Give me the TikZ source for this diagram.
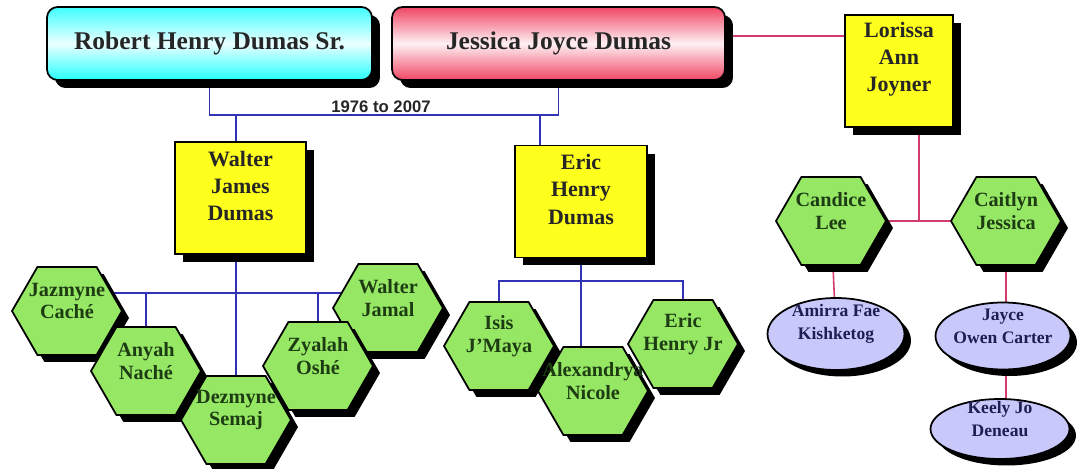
\documentclass[tikz,border=0pt]{standalone}
\usepackage{fontspec}
\setmainfont{Liberation Serif}
\newfontfamily\datefont{Liberation Sans}
\usetikzlibrary{shapes.symbols,shapes.geometric,shadows,backgrounds}
\definecolor{hexgreen}{RGB}{150,232,100}
\definecolor{boxyellow}{RGB}{255,255,30}
\definecolor{egglilac}{RGB}{200,200,250}
\definecolor{lineblue}{RGB}{50,50,180}
\definecolor{linepink}{RGB}{210,60,110}
\definecolor{roseshade}{RGB}{240,70,100}
\definecolor{hexink}{RGB}{30,60,20}
\definecolor{eggink}{RGB}{30,30,80}

\begin{document}
\begin{tikzpicture}[x=0.02cm, y=-0.02cm,
  blackshadow/.style={drop shadow={shadow xshift=1.6mm, shadow yshift=-1.6mm, fill=black, opacity=1}},
  parentbox/.style={rounded corners=6pt, draw=black, line width=1pt, minimum height=1.46cm,
    font=\fontsize{14.5}{17}\selectfont\bfseries, text=black!85, blackshadow},
  kidbox/.style={draw=black, line width=1pt, fill=boxyellow, minimum height=2.24cm, blackshadow},
  hex/.style={signal, signal to=east and west, signal pointer angle=120, draw=black, line width=1pt,
    fill=hexgreen, minimum width=2.2cm, minimum height=1.76cm, inner sep=0pt,
    drop shadow={shadow xshift=1.4mm, shadow yshift=-1.4mm, fill=black, opacity=1}},
  egg/.style={ellipse, draw=black, line width=1pt, fill=egglilac, inner sep=0pt,
    drop shadow={shadow xshift=1.3mm, shadow yshift=-1.3mm, fill=black, opacity=1}},
  boxtext/.style={align=center, yshift=0.24cm, text=black!85, font=\fontsize{12.5}{15.5}\selectfont\bfseries},
  hextext/.style={align=center, yshift=0.2cm, text=hexink, font=\fontsize{11.5}{12.8}\selectfont\bfseries},
  eggtext/.style={align=center, yshift=0.2cm, text=eggink, font=\fontsize{10}{13}\selectfont\bfseries},
  bline/.style={draw=lineblue, line width=0.9pt},
  pline/.style={draw=linepink, line width=0.9pt}
]
\useasboundingbox (0,0) rectangle (1079,469);

% parents
\node[parentbox, minimum width=6.5cm, top color=cyan!75, bottom color=cyan!85, middle color=cyan!8]
  (robert) at (209.5,43.5) {Robert Henry Dumas Sr.};
\node[parentbox, minimum width=6.66cm, top color=roseshade, bottom color=roseshade, middle color=roseshade!8]
  (jessica) at (558.5,43.5) {Jessica Joyce Dumas};
\node[kidbox, minimum width=2.16cm, label={[boxtext]center:Lorissa\\Ann\\Joyner}] (lorissa) at (899,71) {};

\coordinate (marry) at (381,115);
\node[above, inner sep=1pt, font=\datefont\fontsize{9.5}{10}\selectfont\bfseries, text=black!85] (date) at (marry) {1976 to 2007};

% sons
\node[kidbox, minimum width=2.62cm, label={[boxtext]center:Walter\\James\\Dumas}] (walter) at (240.5,198) {};
\node[kidbox, minimum width=2.64cm, label={[boxtext]center:Eric\\Henry\\Dumas}] (eric) at (581,201.5) {};

% grandchildren
\node[hex, label={[hextext]center:Jazmyne\\Caché}] (jazmyne) at (67,311) {};
\node[hex, label={[hextext]center:Anyah\\Naché}] (anyah) at (146,371) {};
\node[hex, label={[hextext]center:Walter\\Jamal}] (walterjamal) at (388,308) {};
\node[hex, label={[hextext]center:Zyalah\\Oshé}] (zyalah) at (318,366) {};
\node[hex, label={[hextext]center:Dezmyne\\Semaj}] (dezmyne) at (236,420) {};

\node[hex, label={[hextext]center:Isis\\J'Maya}] (isis) at (499,346) {};
\node[hex, label={[hextext]center:Alexandrya\\Nicole}] (alexandrya) at (593,391) {};
\node[hex, label={[hextext]center:Eric\\Henry Jr}] (ericjr) at (683,344) {};

\node[hex, label={[hextext]center:Candice\\Lee}] (candice) at (831,221) {};
\node[hex, label={[hextext]center:Caitlyn\\Jessica}] (caitlyn) at (1006,221) {};

\node[egg, minimum width=2.74cm, minimum height=1.44cm, label={[eggtext]center:Amirra Fae\\Kishketog}] (amirra) at (836,334) {};
\node[egg, minimum width=2.7cm, minimum height=1.34cm, label={[eggtext]center:Jayce\\Owen Carter}] (jayce) at (1003,336) {};
\node[egg, minimum width=2.78cm, minimum height=1.2cm, label={[eggtext]center:Keely Jo\\Deneau}] (keely) at (1000,429) {};

\coordinate (wbar) at (236,293);
\coordinate (ebar) at (582,281);

\begin{pgfonlayer}{background}
\fill[white] (0,0) rectangle (1079,469);
\draw[bline] (robert.south) |- (marry) -| (jessica.south);
\draw[bline] (dezmyne.north |- marry) -- (dezmyne.north);
\draw[bline] ([xshift=-0.82cm]eric.north) -- ([xshift=-0.82cm]eric.north |- marry);
\draw[bline] (eric.south) -- (eric.south |- alexandrya.north);
\draw[bline] (jazmyne.center |- wbar) -- (walterjamal.center |- wbar);
\draw[bline] (anyah.north) -- (anyah.north |- wbar);
\draw[bline] (zyalah.north) -- (zyalah.north |- wbar);
\draw[bline] (isis.north) |- (ebar) -| (ericjr.north);

\draw[pline] ([yshift=0.7cm]lorissa.west) -- ([yshift=0.7cm]lorissa.west -| jessica.east);
\draw[pline] ([xshift=0.4cm]lorissa.south) -- ([xshift=0.4cm]lorissa.south |- candice);
\draw[pline] (candice) -- (caitlyn);
\draw[pline] (candice) -- (amirra);
\draw[pline] (caitlyn) -- (caitlyn |- keely);
\end{pgfonlayer}
\end{tikzpicture}
\end{document}
